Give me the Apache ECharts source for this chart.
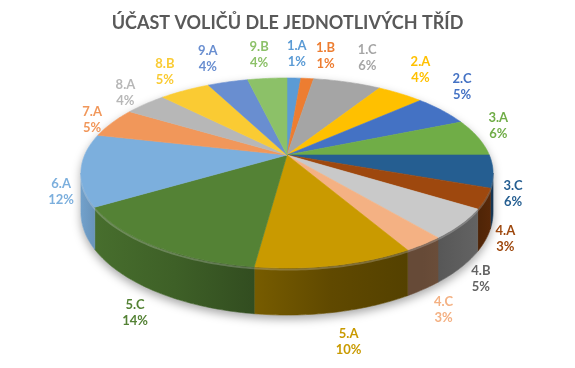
<!DOCTYPE html>
<html><head><meta charset="utf-8">
<script src="https://cdn.jsdelivr.net/npm/echarts@6/dist/echarts.min.js"></script>
<style>html,body{margin:0;padding:0;background:#fff}#c{width:575px;height:368px}</style>
</head><body><div id="c"></div>
<script>
const titleText = 'ÚČAST VOLIČŮ DLE JEDNOTLIVÝCH TŘÍD';
const categories = ['1.A','1.B','1.C','2.A','2.C','3.A','3.C','4.A','4.B','4.C','5.A','5.C','6.A','7.A','8.A','8.B','9.A','9.B'];
const values = [1.3,1.2,6.4,4.4,5.4,6.3,5.5,3.4,5.1,2.7,10.4,14.3,12.2,5.1,4.0,4.8,3.8,3.7];
const sliceColors = ['#5B9BD5','#ED7D31','#A5A5A5','#FFC000','#4472C4','#70AD47','#255E91','#9E480E','#C9C9C9','#F4B183','#C99A00','#548235','#7CAFDD','#F1975A','#B7B7B7','#FACB33','#698ED0','#8CC168'];
const labelColors = ['#5B9BD5','#ED7D31','#A5A5A5','#FFC000','#4472C4','#70AD47','#255E91','#9E480E','#636363','#F4B183','#C99A00','#548235','#7CAFDD','#F1975A','#B7B7B7','#FACB33','#698ED0','#8CC168'];

const chart = echarts.init(document.getElementById('c'), null, {renderer:'canvas'});
const total = values.reduce((a,b)=>a+b,0);
const starts = []; let acc = 0; values.forEach(v=>{starts.push(acc); acc+=v;});
const TWO_PI = Math.PI*2, DEG = Math.PI/180;
const G = {cx:287, cy:155, A:202.3, B:91.6, k:0.1895, D:38.1};
function proj(t){ const u=Math.sin(t), v=-Math.cos(t), w=1-G.k*v; return {x:G.cx+G.A*u/w, y:G.cy+G.B*v/w, u:u, v:v, w:w}; }
const visA = Math.acos(-G.k), visB = TWO_PI - visA;
const shadeTable = [[101,0.6],[125,0.48],[145,0.42],[160,0.42],[185,0.58],[215,0.75],[259,0.92]];
function shadeF(t){ const d=t/DEG; if(d<=shadeTable[0][0]) return shadeTable[0][1];
  for(let i=1;i<shadeTable.length;i++){ if(d<=shadeTable[i][0]){ const a=shadeTable[i-1], b=shadeTable[i]; return a[1]+(b[1]-a[1])*(d-a[0])/(b[0]-a[0]); } }
  return shadeTable[shadeTable.length-1][1]; }
function hexRgb(h){ h=h.replace('#',''); return [parseInt(h.substr(0,2),16),parseInt(h.substr(2,2),16),parseInt(h.substr(4,2),16)]; }
function shade(h,f){ const c=hexRgb(h).map(x=>Math.max(0,Math.min(255,Math.round(x*f)))); return 'rgb('+c.join(',')+')'; }
function clamp(x,a,b){ return Math.max(a,Math.min(b,x)); }

// label layout (outside end, derived from slice mid-angles)
const labelPos = values.map((v,i)=>{
  const tm = (starts[i]+v/2)/total*TWO_PI; const p = proj(tm);
  const dx = clamp(p.u*70,-20,20);
  let dy;
  if (p.v < 0) dy = -(p.u >= 0 ? clamp(-p.v*60,0,24) : clamp((-p.v-0.3)*36,0,24));
  else dy = 0.3*G.D/p.w + p.v*64;
  return {x: p.x + dx, y: p.y + dy, t: tm};
});
const BW = 28, BH = 32;
for (let i=1;i<labelPos.length;i++){
  let guard=0;
  const overlaps = ()=>{ for(let j=0;j<i;j++){ const a=labelPos[i], b=labelPos[j]; if(Math.abs(a.x-b.x)<BW && Math.abs(a.y-b.y)<BH) return true; } return false; };
  while(overlaps() && guard<80){ const t=labelPos[i].t; labelPos[i].x += Math.cos(t); labelPos[i].y += Math.sin(t); guard++; }
}

function renderItem(params, api){
  const i = params.dataIndex;
  const color = sliceColors[i];
  const t0 = starts[i]/total*TWO_PI, t1 = (starts[i]+values[i])/total*TWO_PI;
  const children = [];
  if (i === 0){
    const outline = [];
    for (let j=0;j<=360;j++){ const t=j*DEG; const p=proj(t); const dr = (t>visA && t<visB) ? G.D/p.w : 0; outline.push([p.x, p.y+dr]); }
    children.push({type:'polygon', shape:{points:outline}, style:{fill:'#fff', shadowBlur:10, shadowColor:'rgba(0,0,0,0.35)', shadowOffsetY:4}, z2:1});
  }
  const pts = [[G.cx,G.cy]];
  const n = Math.max(2, Math.ceil((t1-t0)/DEG));
  for (let j=0;j<=n;j++){ const p=proj(t0+(t1-t0)*j/n); pts.push([p.x,p.y]); }
  children.push({type:'polygon', shape:{points:pts}, style:{fill:color, stroke:color, lineWidth:0.6}, z2:100});
  const s0 = Math.max(t0,visA), s1 = Math.min(t1,visB);
  if (s1 > s0){
    const m = Math.max(2, Math.ceil((s1-s0)/DEG));
    const topE=[], botE=[];
    for (let j=0;j<=m;j++){ const p=proj(s0+(s1-s0)*j/m); topE.push([p.x,p.y]); botE.push([p.x,p.y+G.D/p.w]); }
    const poly = topE.concat(botE.slice().reverse());
    const pl = proj(s1), pr = proj(s0);
    const grad = new echarts.graphic.LinearGradient(pl.x,0,pr.x+0.01,0,[
      {offset:0,color:shade(color,shadeF(s1))},
      {offset:0.5,color:shade(color,shadeF((s0+s1)/2))},
      {offset:1,color:shade(color,shadeF(s0))}], true);
    children.push({type:'polygon', shape:{points:poly}, style:{fill:grad, stroke:grad, lineWidth:0.6}, z2:10});
    children.push({type:'polyline', shape:{points:topE.map(q=>[q[0],q[1]+1.5])}, style:{fill:null, stroke:'rgba(255,255,255,0.22)', lineWidth:2}, z2:60});
  }
  const lp = labelPos[i];
  children.push({type:'text', x:lp.x, y:lp.y, style:{text:categories[i]+'\n'+Math.round(values[i]/total*100)+'%', fill:labelColors[i], font:'bold 13px Lato', align:'center', verticalAlign:'middle', textAlign:'center', textVerticalAlign:'middle', lineHeight:16}, z2:200});
  return {type:'group', children:children};
}

chart.setOption({
  animation:false,
  title:{text:titleText, left:'center', top:9, textStyle:{fontFamily:'Lato', fontWeight:'bold', fontSize:18, color:'#595959'}},
  series:[{type:'custom', coordinateSystem:'none', silent:true, renderItem:renderItem, data:values.map((v,i)=>({name:categories[i], value:v}))}]
});
</script></body></html>
